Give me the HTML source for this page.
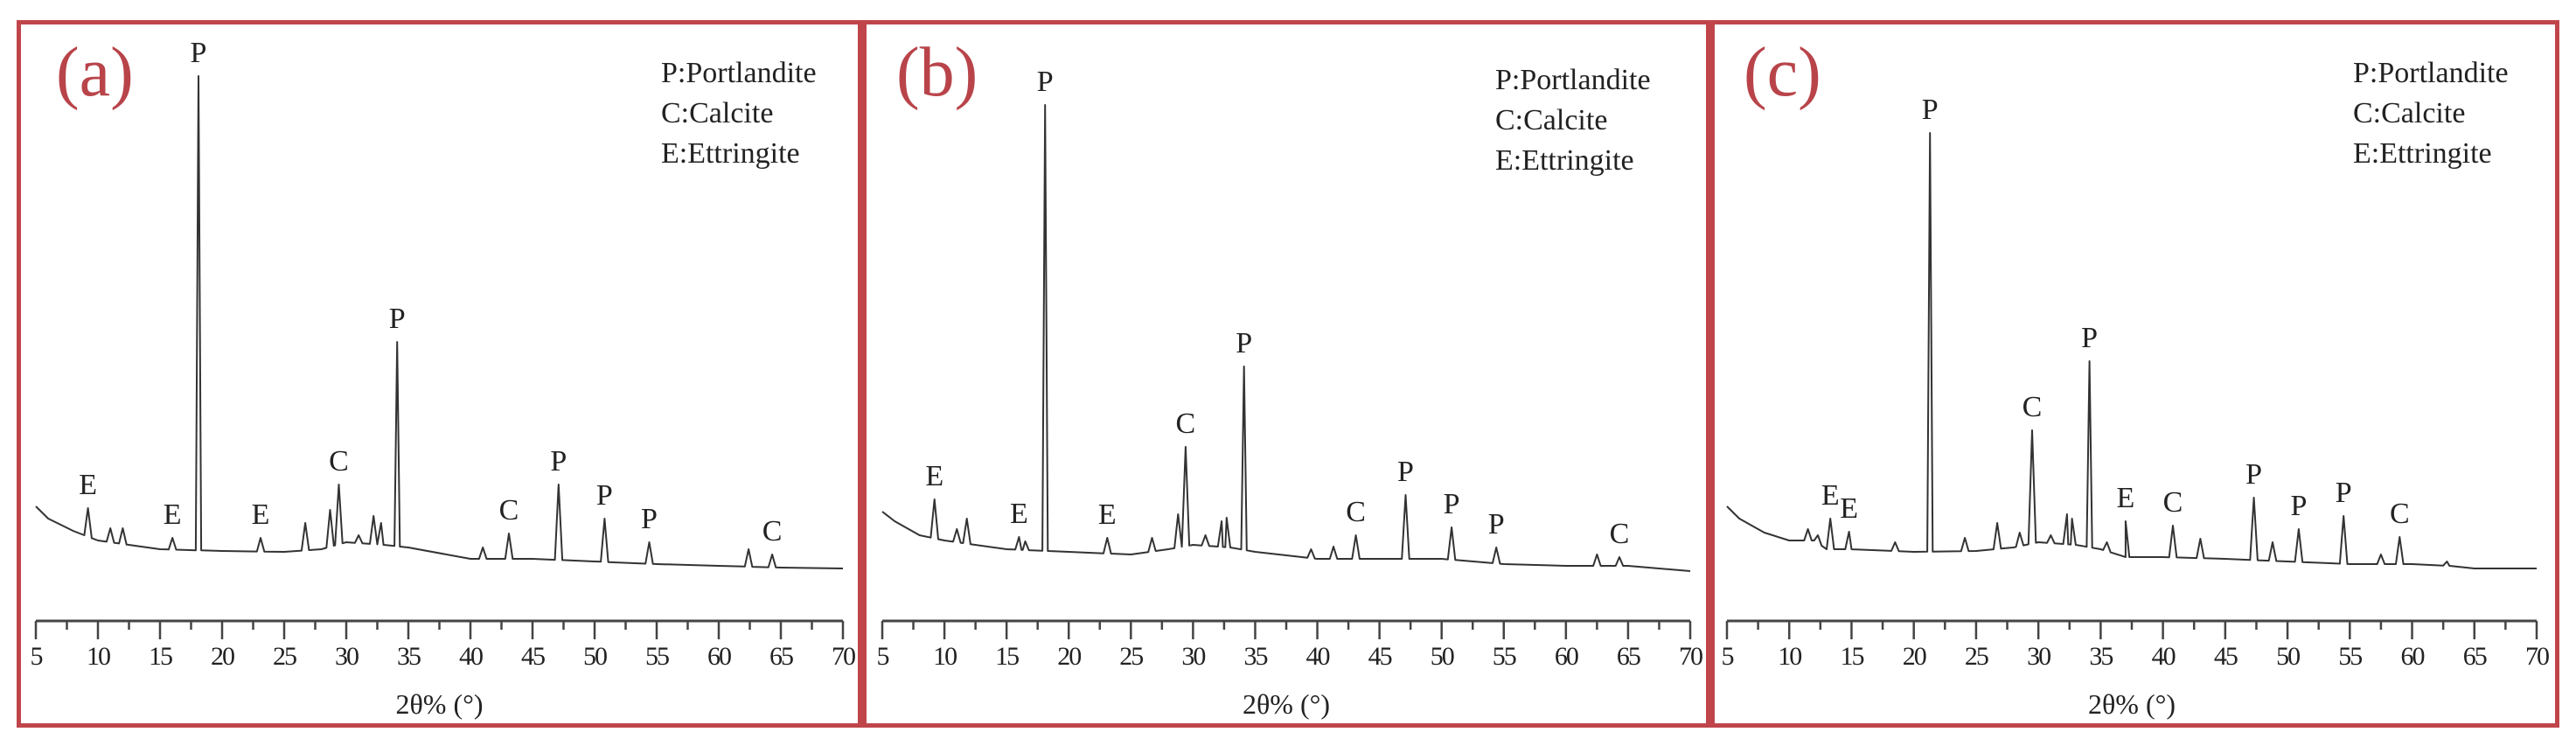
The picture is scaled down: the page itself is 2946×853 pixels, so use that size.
<!DOCTYPE html>
<html><head><meta charset="utf-8"><style>
html,body{margin:0;padding:0;background:#fff;}
svg{display:block;}
text{font-family:"Liberation Serif",serif;fill:#222;}
</style></head><body>
<svg id="chart" width="2946" height="853" viewBox="0 0 2946 853" xmlns="http://www.w3.org/2000/svg"></svg>
<script>
// ---- data ----
const tickValues = [5,10,15,20,25,30,35,40,45,50,55,60,65,70];
const legendLines = ["P:Portlandite","C:Calcite","E:Ettringite"];
const panelNames = ["(a)","(b)","(c)"];

const bgAngleA = [5,6,8,10,15,20,25,28,30,33,35,40,45,50,55,60,65,70];
const bgCountA = [81,67,53,42,32,30,29,32,40,37,34,21,21,18,15,13,11,10];
const peakAngleA = [9.2,11,12,16,18.1,23.1,26.7,28.7,29.4,31,32.2,32.8,34.1,41,43.1,47.1,50.8,54.4,62.4,64.3];
const peakCountA = [79,56,56,45,573,45,62,77,106,48,70,62,269,34,50,106,67,40,32,26];
const labelAngleA = [9.2,16,18.1,23.1,29.4,34.1,43.1,47.1,50.8,54.4,64.3];
const labelTextA = ["E","E","P","E","C","P","C","P","P","P","C"];

const bgAngleB = [5,6,8,10,15,20,25,28,30,33,35,40,45,50,55,60,65,70];
const bgCountB = [75,64,48,42,32,29,26,32,37,34,29,21,21,21,15,13,13,7];
const peakAngleB = [9.2,11,11.8,16,16.5,18.1,23.1,26.7,28.8,29.4,31,32.3,32.7,34.1,39.5,41.3,43.1,47.1,50.8,54.4,62.5,64.3];
const peakCountB = [89,55,67,46,41,540,45,45,72,149,48,64,68,241,32,35,48,94,57,34,26,23];
const labelAngleB = [9.2,16,18.1,23.1,29.4,34.1,43.1,47.1,50.8,54.4,64.3];
const labelTextB = ["E","E","P","E","C","P","C","P","P","P","C"];

const bgAngleC = [5,6,8,10,12,13,15,20,25,28,30,33,35,37,40,45,50,55,60,63,65,70];
const bgCountC = [81,67,51,42,42,32,32,29,30,34,40,37,32,23,23,21,18,15,15,13,10,10];
const peakAngleC = [11.5,12.3,13.3,14.8,18.5,21.3,24.1,26.7,28.5,29.5,31,32.3,32.7,34.1,35.5,37,40.8,43,47.3,48.8,50.9,54.5,57.5,59,62.8];
const peakCountC = [55,48,67,52,40,508,45,62,51,168,48,72,67,247,40,64,59,44,91,40,55,70,26,46,18];
const labelAngleC = [13.3,14.8,21.3,29.5,34.1,37,40.8,47.3,50.9,54.5,59];
const labelTextC = ["E","E","P","C","P","E","C","P","P","P","C"];

// ---- layout ----
const NS="http://www.w3.org/2000/svg";
const svg=document.getElementById('chart');
function el(tag,attrs,parent){const e=document.createElementNS(NS,tag);for(const k in attrs)e.setAttribute(k,attrs[k]);(parent||svg).appendChild(e);return e;}

const panels=[
 {box:[19,986],x0:41,x1:964,leg:[756,82],nm:[64,82],bgA:bgAngleA,bgC:bgCountA,pA:peakAngleA,pC:peakCountA,lA:labelAngleA,lT:labelTextA,id:"a"},
 {box:[986,1956],x0:1009,x1:1933,leg:[1710,90],nm:[1025,82],bgA:bgAngleB,bgC:bgCountB,pA:peakAngleB,pC:peakCountB,lA:labelAngleB,lT:labelTextB,id:"b"},
 {box:[1956,2927],x0:1975,x1:2901,leg:[2691,82],nm:[1994,82],bgA:bgAngleC,bgC:bgCountC,pA:peakAngleC,pC:peakCountC,lA:labelAngleC,lT:labelTextC,id:"c"}
];
function yScale(c){return 660-c;}
function interp(xs,ys,x){for(let i=0;i<xs.length-1;i++){if(x>=xs[i]&&x<=xs[i+1]){const t=(x-xs[i])/(xs[i+1]-xs[i]);return ys[i]+t*(ys[i+1]-ys[i]);}}return x<xs[0]?ys[0]:ys[ys.length-1];}

panels.forEach((p,pi)=>{
  const g=el('g',{});
  
  
  const xS=a=>p.x0+(a-5)/65*(p.x1-p.x0);
  const frame=el('rect',{x:p.box[0]+2.5,y:25.5,width:p.box[1]-p.box[0]-5,height:804,fill:'none',stroke:'#c0454b','stroke-width':5},g);
  
  
  // pattern line
  const pts=[];
  p.bgA.forEach((a,i)=>pts.push([a,p.bgC[i]]));
  p.pA.forEach((a,i)=>{const w=p.pC[i]>200?0.22:0.3;
    pts.push([a-w,interp(p.bgA,p.bgC,a-w)]);pts.push([a,p.pC[i]]);pts.push([a+w,interp(p.bgA,p.bgC,a+w)]);});
  pts.sort((m,n)=>m[0]-n[0]);
  const d=pts.map((q,i)=>(i?'L':'M')+xS(q[0]).toFixed(1)+','+yScale(q[1]).toFixed(1)).join(' ');
  const line=el('path',{d:d,fill:'none',stroke:'#333','stroke-width':2,'stroke-linejoin':'round'},g);
  
  
  // peak labels
  p.lA.forEach((a,i)=>{
    const pk=p.pC[p.pA.indexOf(a)];
    const t=el('text',{x:xS(a),y:yScale(pk)-16,'font-size':34,'text-anchor':'middle'},g);
    t.textContent=p.lT[i];
    
    
  });
  // axis
  const ax=el('line',{x1:p.x0,x2:p.x1,y1:710,y2:710,stroke:'#444','stroke-width':3},g);
  
  
  for(let v=5;v<=70;v+=2.5){
    const major=(v%5===0);
    const tk=el('line',{x1:xS(v),x2:xS(v),y1:710,y2:major?731:720,stroke:'#444','stroke-width':2.5},g);
    
    
  }
  tickValues.forEach(v=>{
    const t=el('text',{x:xS(v),y:760,'font-size':30,'text-anchor':'middle','letter-spacing':'-2'},g);
    t.textContent=v;
    
    
  });
  const at=el('text',{x:(p.x0+p.x1)/2,y:816,'font-size':32,'text-anchor':'middle'},g);
  at.textContent='2θ% (°)';
  
  
  // legend
  legendLines.forEach((s,i)=>{
    const t=el('text',{x:p.leg[0],y:p.leg[1]+12+i*46,'font-size':34},g);
    t.textContent=s;
    
    
  });
  const nm=el('text',{x:p.nm[0],y:p.nm[1]+27,'font-size':80},g);
  nm.setAttribute('style','fill:#b8444a');
  nm.textContent=panelNames[pi];
  
  
});
</script>
</body></html>
